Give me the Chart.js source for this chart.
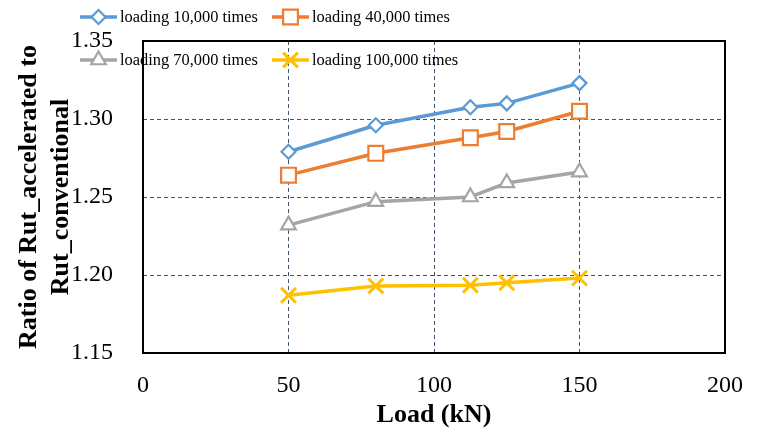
<!DOCTYPE html>
<html>
<head>
<meta charset="utf-8">
<script src="https://cdn.jsdelivr.net/npm/chart.js@4"></script>
<style>
  html, body { margin: 0; padding: 0; background: #fff; }
  #wrap { width: 757px; height: 431px; position: relative; }
</style>
</head>
<body>
<div id="wrap"><canvas id="rut"></canvas></div>
<script>
// ---- data ----
const loads = [50, 80, 112.5, 125, 150];            // Load (kN)
const seriesNames = [
  "loading 10,000 times",
  "loading 40,000 times",
  "loading 70,000 times",
  "loading 100,000 times"
];
const ratio10k  = [1.279, 1.296, 1.3075, 1.310, 1.323];
const ratio40k  = [1.264, 1.278, 1.288, 1.292, 1.305];
const ratio70k  = [1.232, 1.247, 1.250, 1.259, 1.266];
const ratio100k = [1.187, 1.193, 1.1935, 1.195, 1.198];
const xTicks = [0, 50, 100, 150, 200];
const yTicks = [1.15, 1.20, 1.25, 1.30, 1.35];

const SERIF = '"Liberation Serif", "Times New Roman", serif';
const GRID = "#44546A";

const styles = [
  { color: "#5B9BD5", point: "rectRot",  r: 7 },
  { color: "#ED7D31", point: "rect",     r: 10.5 },
  { color: "#A5A5A5", point: "triangle", r: 8.5 },
  { color: "#FFC000", point: "crossRot", r: 10.5 }
];
const values = [ratio10k, ratio40k, ratio70k, ratio100k];

const datasets = values.map((vals, i) => ({
  label: seriesNames[i],
  data: vals.map((v, k) => ({ x: loads[k], y: v })),
  borderColor: styles[i].color,
  backgroundColor: styles[i].color,
  borderWidth: 3.5,
  pointStyle: styles[i].point,
  pointRadius: styles[i].r,
  pointHoverRadius: styles[i].r,
  pointBackgroundColor: "#fff",
  pointBorderColor: styles[i].color,
  pointBorderWidth: i === 3 ? 3 : 2.2,
  tension: 0
}));

// frame round the plot area + legend (two rows, partly over the plot)
const frameAndLegend = {
  id: "frameAndLegend",
  afterDraw(chart) {
    const ctx = chart.ctx;
    const a = chart.chartArea;
    ctx.save();
    ctx.strokeStyle = "#000";
    ctx.lineWidth = 2;
    ctx.setLineDash([]);
    ctx.strokeRect(a.left, a.top, a.right - a.left, a.bottom - a.top);

    // legend
    const cols = [80, 272];
    const rows = [17, 60];
    ctx.font = "16.4px " + SERIF;
    ctx.textBaseline = "middle";
    ctx.fillStyle = "#000";
    chart.data.datasets.forEach((ds, i) => {
      const x0 = cols[i % 2], y0 = rows[Math.floor(i / 2)];
      ctx.strokeStyle = ds.borderColor;
      ctx.lineWidth = 3.5;
      ctx.beginPath();
      ctx.moveTo(x0, y0);
      ctx.lineTo(x0 + 37, y0);
      ctx.stroke();
      ctx.fillStyle = "#fff";
      ctx.lineWidth = ds.pointBorderWidth;
      Chart.helpers.drawPoint(ctx, { pointStyle: ds.pointStyle, radius: ds.pointRadius, rotation: 0, borderWidth: ds.pointBorderWidth }, x0 + 18.5, y0);
      ctx.fillStyle = "#000";
      ctx.fillText(ds.label, x0 + 40, y0 + 1);
    });
    ctx.restore();
  }
};

new Chart(document.getElementById("rut"), {
  type: "line",
  data: { datasets },
  plugins: [frameAndLegend],
  options: {
    responsive: true,
    maintainAspectRatio: false,
    animation: false,
    layout: { padding: { top: 41, right: 32, bottom: 0, left: 0 } },
    plugins: { legend: { display: false }, tooltip: { enabled: false } },
    scales: {
      x: {
        type: "linear",
        min: 0, max: 200,
        afterBuildTicks: (s) => { s.ticks = xTicks.map(v => ({ value: v })); },
        afterFit: (s) => { s.height = 78; s.paddingLeft = 0; s.paddingRight = 0; },
        ticks: { color: "#000", font: { family: SERIF, size: 24 }, padding: 18, maxRotation: 0 },
        grid: {
          drawTicks: false,
          color: (c) => (c.tick && (c.tick.value === 0 || c.tick.value === 200)) ? "rgba(0,0,0,0)" : GRID,
          lineWidth: 1
        },
        border: { display: false, dash: [4, 3] },
        title: {
          display: true, text: "Load (kN)", color: "#000",
          font: { family: SERIF, size: 26, weight: "bold", lineHeight: 1.2 },
          padding: { top: 0, bottom: 0 }
        }
      },
      y: {
        min: 1.15, max: 1.35,
        afterBuildTicks: (s) => { s.ticks = yTicks.map(v => ({ value: v })); },
        afterFit: (s) => { s.width = 143; s.paddingTop = 0; s.paddingBottom = 0; },
        ticks: {
          color: "#000", font: { family: SERIF, size: 24 }, padding: 30,
          callback: (v) => Number(v).toFixed(2)
        },
        grid: {
          drawTicks: false,
          color: (c) => (c.tick && (Math.abs(c.tick.value - 1.15) < 1e-6 || Math.abs(c.tick.value - 1.35) < 1e-6)) ? "rgba(0,0,0,0)" : GRID,
          lineWidth: 1
        },
        border: { display: false, dash: [4, 3] },
        title: {
          display: true, text: ["Ratio of Rut_accelerated to", "Rut_conventional"], color: "#000",
          font: { family: SERIF, size: 26, weight: "bold", lineHeight: 1.2 },
          padding: { top: 14, bottom: 0 }
        }
      }
    }
  }
});
</script>
</body>
</html>
